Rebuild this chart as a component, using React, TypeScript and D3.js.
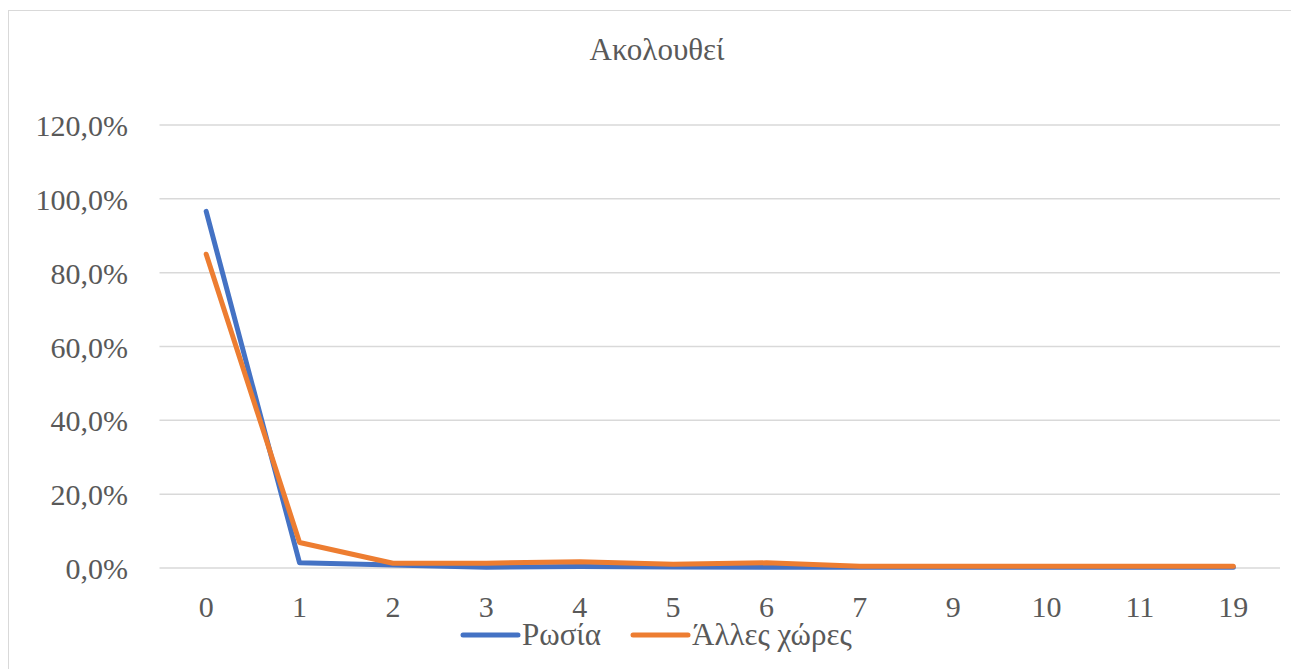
import React from "react";
import * as d3 from "d3";

const categories = ["0", "1", "2", "3", "4", "5", "6", "7", "9", "10", "11", "19"];
const russia = [96.6, 1.4, 0.8, 0.2, 0.4, 0.3, 0.2, 0.2, 0.2, 0.2, 0.2, 0.2];
const others = [85.0, 6.9, 1.3, 1.3, 1.7, 1.0, 1.4, 0.5, 0.5, 0.5, 0.5, 0.5];
const yTicks = [0, 20, 40, 60, 80, 100, 120];
const seriesNames = ["Ρωσία", "Άλλες χώρες"];
const colors = ["#4472C4", "#ED7D31"];
const title = "Ακολουθεί";

const W = 1291;
const H = 669;
const FONT = "Liberation Serif, Times New Roman, serif";
const TEXT = "#595959";

export default function App() {
  const x = d3.scaleBand<string>().domain(categories).range([159.5, 1280]);
  const y = d3.scaleLinear().domain([0, 120]).range([568, 125]);
  const cx = (c: string) => (x(c) ?? 0) + x.bandwidth() / 2;

  const line = d3
    .line<number>()
    .x((_, i) => cx(categories[i]))
    .y((d) => y(d));

  const fmt = (v: number) => v.toFixed(1).replace(".", ",") + "%";

  const series = [russia, others];
  const legendItems = [
    { x0: 463, label: seriesNames[0] },
    { x0: 633, label: seriesNames[1] },
  ];

  return (
    <svg
      width={W}
      height={H}
      style={{ position: "absolute", left: 0, top: 0, background: "#fff", fontFamily: FONT }}
    >
      <rect x={8.5} y={10.5} width={1290} height={680} fill="#fff" stroke="#D9D9D9" strokeWidth={1} />
      <text x={657} y={60} textAnchor="middle" fontSize={31} fill={TEXT}>
        {title}
      </text>
      {yTicks.map((t) => (
        <g key={t}>
          <line x1={159.5} x2={1280} y1={y(t)} y2={y(t)} stroke="#D9D9D9" strokeWidth={1.5} />
          <text x={128} y={y(t) + 11} textAnchor="end" fontSize={30} fill={TEXT}>
            {fmt(t)}
          </text>
        </g>
      ))}
      {categories.map((c) => (
        <text key={c} x={cx(c)} y={617} textAnchor="middle" fontSize={30} fill={TEXT}>
          {c}
        </text>
      ))}
      {series.map((s, i) => (
        <path
          key={i}
          d={line(s) ?? ""}
          fill="none"
          stroke={colors[i]}
          strokeWidth={5}
          strokeLinecap="round"
          strokeLinejoin="round"
        />
      ))}
      {legendItems.map((it, i) => (
        <g key={i}>
          <line x1={it.x0} x2={it.x0 + 55} y1={635} y2={635} stroke={colors[i]} strokeWidth={5} strokeLinecap="round" />
          <text x={it.x0 + 59} y={645} fontSize={31} fill={TEXT}>
            {it.label}
          </text>
        </g>
      ))}
    </svg>
  );
}
